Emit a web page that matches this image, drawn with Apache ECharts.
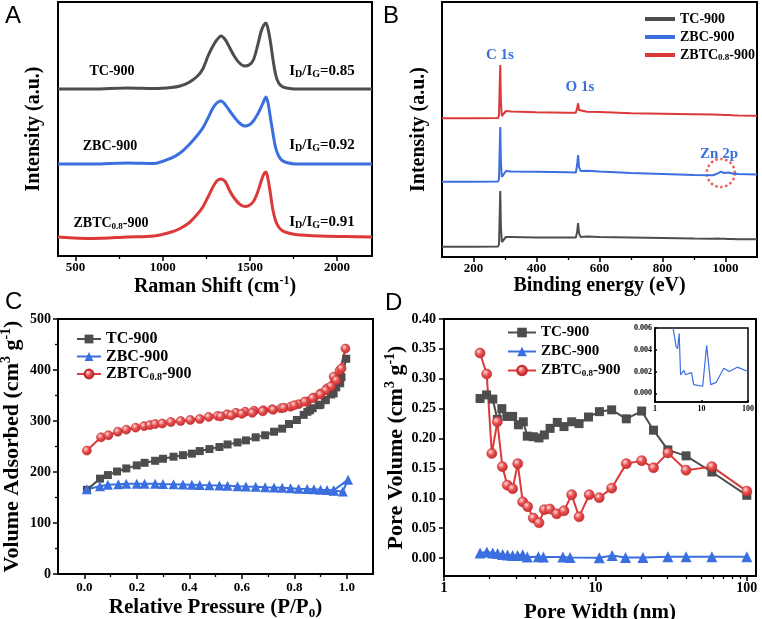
<!DOCTYPE html>
<html><head><meta charset="utf-8">
<script src="https://cdn.jsdelivr.net/npm/echarts@6/dist/echarts.min.js"></script>
<style>html,body{margin:0;padding:0;background:#fff}#c{width:762px;height:619px}</style>
</head><body><div id="c"></div><script>
// ---------- Panel A: Raman ----------
const ramanShift = [400,600,800,950,1050,1100,1150,1200,1230,1260,1285,1310,1335,1360,1385,1410,1440,1470,1495,1520,1545,1565,1580,1592,1604,1618,1632,1648,1665,1685,1710,1760,1900,2050,2200];
const ramanTC   = [167,167,168,167.5,168.5,170,173.5,180,187,200,209,216,220,216,208,200,193,190,191,196,211,225,231,233,227,214,197,181,173,169.5,168,167,167,167,167];
const ramanZBC  = [92,92,93,92.5,98,103,111,121,128,138,147,153,155,151,145,139,133,130,131,135,142,149,155,159,153,138,123,108,100,95.5,93.5,92,92,92,92];
const ramanZBTC = [19,17.5,19,20,24,27.5,33,42,49,59,68,75,77,74,65,58,52,49.5,50.5,54.5,64,75,82,84,77,62,46,35,29,25.5,23.5,21.5,20,19.5,19];
const ramanTicks = [500,1000,1500,2000];
const ramanMinor = [750,1250,1750];

// ---------- Panel B: XPS ----------
const bindingEnergy = [100,200,278,281,283,285,287,290,295,303,320,400,500,525,529,532,535,540,560,600,700,800,900,960,975,985,995,1010,1022,1040,1100];
const xpsTC   = [10.3,10.3,10.5,13,40,66,30,15,17,20,20,19.5,19.5,19.5,25,34,24,20,20.5,20,19.5,19,18.5,18.3,18.5,18.3,18.2,18,18,17.8,17.7];
const xpsZBC  = [75.3,75.3,75.5,78,105,130,95,80,81,86,85.5,85.3,84.7,84.5,92,102,90,86,86.3,85.5,84,83,82,81.8,83.5,85.3,84,84.5,83.5,83,82.5];
const xpsZBTC = [138.7,138.7,139,142,170,192,155,141,142,146,145.5,144.7,144.3,144.2,149,153.7,147,145,145.3,145,143.7,143.2,142.7,142.4,142.3,142.2,142.1,142,141.8,141.6,141.3];
const zn2pMark = [985, 84];
const xpsTicks = [200,400,600,800,1000];
const xpsMinor = [300,500,700,900];

// ---------- Panel C: N2 isotherms ----------
const isoTC_P  = [0.01,0.06,0.09,0.125,0.16,0.20,0.23,0.27,0.30,0.34,0.376,0.41,0.44,0.477,0.515,0.546,0.584,0.616,0.653,0.689,0.723,0.754,0.78,0.81,0.836,0.86,0.893,0.918,0.95,0.975,0.998,0.98,0.96,0.94,0.92,0.90,0.87,0.85];
const isoTC_V  = [165,187,194,201,207,213,218,222,226,230,233,236,241,245,249,254,258,262,268,272,279,285,294,302,312,321,331,341,354,374,422,386,366,352,341,332,325,318];
const isoZBC_P = [0.01,0.06,0.09,0.13,0.16,0.20,0.23,0.27,0.30,0.34,0.376,0.41,0.44,0.477,0.515,0.546,0.584,0.616,0.653,0.689,0.723,0.754,0.786,0.817,0.849,0.875,0.90,0.925,0.95,1.005,0.985,0.95];
const isoZBC_V = [166,172,175,176,177,177,177,177,176.5,176,175.5,175,174.5,174,173.5,173,172,171.5,171,170,169.5,169,168,167,166.5,166,165,164.5,164,185,162,163];
const isoZBTC_P = [0.01,0.064,0.092,0.128,0.16,0.196,0.228,0.25,0.27,0.297,0.33,0.367,0.404,0.44,0.474,0.508,0.544,0.578,0.613,0.647,0.682,0.716,0.75,0.786,0.817,0.849,0.875,0.90,0.925,0.95,0.973,0.995,0.98,0.96,0.94,0.92,0.90,0.87,0.84,0.80,0.76,0.72,0.68,0.64,0.60,0.56,0.52];
const isoZBTC_V = [242,268,272,279,283,287,290,292,294,295,298,300,302,304,308,310,313,316,318,320,321,323,325,328,333,338,346,354,364,387,399,442,403,380,368,360,352,345,338,331,326,322,319,316,314,311,309];
const pTicks = [0,0.2,0.4,0.6,0.8,1.0];
const pMinor = [0.1,0.3,0.5,0.7,0.9];
const vTicks = [0,100,200,300,400,500];
const vMinor = [50,150,250,350,450];

// ---------- Panel D: pore size distribution ----------
const psdTC_W = [1.73,1.91,2.1,2.25,2.41,2.6,2.84,3.1,3.34,3.55,3.89,4.24,4.6,5.02,5.6,6.2,6.97,7.8,9.0,10.63,12.8,16.0,20.2,24.2,30.1,39.7,58.8,100];
const psdTC_V = [0.267,0.273,0.266,0.232,0.250,0.237,0.237,0.223,0.228,0.204,0.203,0.201,0.206,0.217,0.227,0.220,0.228,0.225,0.236,0.245,0.248,0.233,0.246,0.214,0.181,0.171,0.144,0.105];
const psdZBTC_W = [1.73,1.915,2.07,2.25,2.43,2.62,2.84,3.07,3.31,3.57,3.89,4.24,4.6,5.0,5.55,6.2,6.97,7.8,9.1,10.6,12.8,16.0,20.2,24.2,30.1,39.7,58.8,100];
const psdZBTC_V = [0.343,0.308,0.175,0.228,0.153,0.122,0.116,0.158,0.094,0.086,0.067,0.059,0.081,0.082,0.074,0.079,0.106,0.069,0.106,0.101,0.117,0.158,0.163,0.151,0.176,0.147,0.153,0.112];
const psdZBC_W = [1.73,1.92,2.10,2.26,2.44,2.63,2.84,3.06,3.31,3.55,4.20,4.53,6.10,6.80,10.6,12.9,15.8,20.6,30.1,39.7,58.8,100];
const psdZBC_V = [0.0085,0.0100,0.0085,0.0075,0.0060,0.0052,0.0043,0.0041,0.0055,0.0017,0.0021,0.0017,0.0019,0.0008,0.00065,0.0044,0.0008,0.0010,0.0023,0.0020,0.0024,0.0020];
const pvTicks = [0,0.05,0.10,0.15,0.20,0.25,0.30,0.35,0.40];
const wTicks = [1,10,100];
const wMinor = [2,3,4,5,6,7,8,9,20,30,40,50,60,70,80,90];
const insetYTicks = [0,0.002,0.004,0.006];

// ---------- styling ----------
const F = 'Liberation Serif';
const GRAY = '#4d4d4d', BLUE = '#3b6fe0', RED = '#dc3a3a';
const redBall = {type:'radial',x:0.38,y:0.35,r:0.7,colorStops:[{offset:0,color:'#ffd9d9'},{offset:0.45,color:'#e65050'},{offset:1,color:'#c42a2a'}]};
const zip = (a,b) => a.map((v,i)=>[v,b[i]]);
const plain = v => String(v);

function nameStyle(fs){
  return {fontFamily:F,fontWeight:'bold',fontSize:fs,color:'#000',
    rich:{t:{fontFamily:F,fontWeight:'bold',fontSize:fs,color:'#000',lineHeight:fs+4},
          sup:{fontFamily:F,fontWeight:'bold',fontSize:Math.round(fs*0.62),color:'#000',verticalAlign:'top',lineHeight:8},
          sub:{fontFamily:F,fontWeight:'bold',fontSize:Math.round(fs*0.62),color:'#000',verticalAlign:'bottom',lineHeight:8}}};
}
function mainAxis(o){
  return {
    gridIndex:o.grid, type:o.type||'value', position:o.pos, min:o.min, max:o.max, logBase:10,
    axisLine:{show:true,onZero:false,lineStyle:{color:'#000',width:2}},
    axisTick:{show:!!o.ticks,customValues:o.ticks,length:o.tl||5,inside:!!o.inside,lineStyle:{color:'#000',width:1.5}},
    axisLabel:{show:!!o.ticks,customValues:o.ticks,formatter:o.fmt||plain,fontFamily:F,fontWeight:'bold',fontSize:o.fs||13,color:'#000',margin:o.margin||5},
    splitLine:{show:false},
    name:o.name, nameLocation:'middle', nameGap:o.gap, nameTextStyle:nameStyle(o.nfs||20)
  };
}
function minorAxis(o){
  return {
    gridIndex:o.grid, type:o.type||'value', position:o.pos, min:o.min, max:o.max, logBase:10,
    axisLine:{show:false,onZero:false},
    axisTick:{show:true,customValues:o.ticks,length:3,lineStyle:{color:'#000',width:1.3}},
    axisLabel:{show:false}, splitLine:{show:false}
  };
}
const legendText = (fs) => ({fontFamily:F,fontWeight:'bold',fontSize:fs,color:'#000',lineHeight:fs,
  rich:{n:{fontFamily:F,fontWeight:'bold',fontSize:fs,color:'#000',lineHeight:fs},
        s:{fontFamily:F,fontWeight:'bold',fontSize:Math.round(fs*0.62),color:'#000',verticalAlign:'bottom',lineHeight:6}}});
function legendFmt(name){
  const n = name.split('|')[1];
  if (n.indexOf('ZBTC')===0) return '{n|ZBTC}{s|0.8}{n|-900}';
  return '{n|'+n+'}';
}
const sampleNames = ['TC-900','ZBC-900','ZBTC0.8-900'];
const G = {show:true,borderColor:'#000',borderWidth:2,containLabel:false,outerBoundsMode:'none'};

const option = {
  animation:false,
  grid:[
    Object.assign({left:58,top:2,width:314,height:254},G),
    Object.assign({left:442,top:2,width:315,height:255},G),
    Object.assign({left:58,top:319,width:315,height:255},G),
    Object.assign({left:444,top:319,width:312,height:257},G),
    Object.assign({left:655,top:328,width:93,height:74},G,{borderWidth:1.5,backgroundColor:'#fff'})
  ],
  xAxis:[
    mainAxis({grid:0,pos:'bottom',min:400,max:2200,ticks:ramanTicks,name:'{t|Raman Shift (cm}{sup|-1}{t|)}',gap:17}),
    minorAxis({grid:0,pos:'bottom',min:400,max:2200,ticks:ramanMinor}),
    mainAxis({grid:1,pos:'bottom',min:100,max:1100,ticks:xpsTicks,name:'{t|Binding energy (eV)}',gap:17}),
    minorAxis({grid:1,pos:'bottom',min:100,max:1100,ticks:xpsMinor}),
    mainAxis({grid:2,pos:'bottom',min:-0.1,max:1.1,ticks:pTicks,fmt:v=>v.toFixed(1),fs:13,margin:7,name:'{t|Relative Pressure (P/P}{sub|0}{t|)}',gap:21,nfs:21}),
    minorAxis({grid:2,pos:'bottom',min:-0.1,max:1.1,ticks:pMinor}),
    mainAxis({grid:3,pos:'bottom',type:'log',min:1,max:115,ticks:wTicks,fs:14,margin:5,name:'{t|Pore Width (nm)}',gap:24,nfs:21}),
    minorAxis({grid:3,pos:'bottom',type:'log',min:1,max:115,ticks:wMinor}),
    Object.assign(mainAxis({grid:4,pos:'bottom',type:'log',min:1,max:100,ticks:wTicks,fs:8,margin:3,tl:2,inside:true}),{axisLine:{show:true,onZero:false,lineStyle:{color:'#000',width:1.5}}})
  ],
  yAxis:[
    mainAxis({grid:0,pos:'left',min:0,max:254,name:'{t|Intensity (a.u.)}',gap:12,nfs:20}),
    mainAxis({grid:1,pos:'left',min:0,max:255,name:'{t|Intensity (a.u.)}',gap:11,nfs:20}),
    mainAxis({grid:2,pos:'left',min:0,max:500,ticks:vTicks,fs:14,margin:7,name:'{t|Volume Adsorbed (cm}{sup|3}{t| g}{sup|-1}{t|)}',gap:33,nfs:22}),
    minorAxis({grid:2,pos:'left',min:0,max:500,ticks:vMinor}),
    mainAxis({grid:3,pos:'left',min:-0.03,max:0.40,ticks:pvTicks,fmt:v=>v.toFixed(2),fs:14,margin:8,name:'{t|Pore Volume (cm}{sup|3}{t| g}{sup|-1}{t|)}',gap:30,nfs:22}),
    Object.assign(mainAxis({grid:4,pos:'left',min:-0.0008,max:0.006,ticks:insetYTicks,fmt:v=>v.toFixed(3),fs:8,margin:3,tl:2,inside:true}),{axisLine:{show:true,onZero:false,lineStyle:{color:'#000',width:1.5}}})
  ],
  legend:[
    {orient:'vertical',left:640,top:7,itemWidth:30,itemHeight:4,itemGap:4,selectedMode:false,
     data:sampleNames.map(n=>({name:'B|'+n,icon:'rect'})),formatter:legendFmt,textStyle:legendText(14)},
    {orient:'vertical',left:71,top:326,itemWidth:24,itemHeight:11,itemGap:1.5,selectedMode:false,
     data:sampleNames.map(n=>'C|'+n),formatter:legendFmt,textStyle:legendText(16)},
    {orient:'vertical',left:502,top:320,itemWidth:28,itemHeight:12,itemGap:4,selectedMode:false,
     data:sampleNames.map(n=>'D|'+n),formatter:legendFmt,textStyle:legendText(15)}
  ],
  series:[
    {name:'A|TC-900',type:'line',xAxisIndex:0,yAxisIndex:0,data:zip(ramanShift,ramanTC),symbol:'none',smooth:0.3,lineStyle:{color:GRAY,width:3},itemStyle:{color:GRAY}},
    {name:'A|ZBC-900',type:'line',xAxisIndex:0,yAxisIndex:0,data:zip(ramanShift,ramanZBC),symbol:'none',smooth:0.3,lineStyle:{color:BLUE,width:3},itemStyle:{color:BLUE}},
    {name:'A|ZBTC0.8-900',type:'line',xAxisIndex:0,yAxisIndex:0,data:zip(ramanShift,ramanZBTC),symbol:'none',smooth:0.3,lineStyle:{color:RED,width:3},itemStyle:{color:RED}},

    {name:'B|TC-900',type:'line',xAxisIndex:2,yAxisIndex:1,data:zip(bindingEnergy,xpsTC),symbol:'none',lineStyle:{color:GRAY,width:2},itemStyle:{color:GRAY}},
    {name:'B|ZBC-900',type:'line',xAxisIndex:2,yAxisIndex:1,data:zip(bindingEnergy,xpsZBC),symbol:'none',lineStyle:{color:BLUE,width:2},itemStyle:{color:BLUE}},
    {name:'B|ZBTC0.8-900',type:'line',xAxisIndex:2,yAxisIndex:1,data:zip(bindingEnergy,xpsZBTC),symbol:'none',lineStyle:{color:RED,width:2},itemStyle:{color:RED}},
    {name:'zn',type:'scatter',xAxisIndex:2,yAxisIndex:1,data:[zn2pMark],symbol:'circle',symbolSize:28,silent:true,
     itemStyle:{color:'rgba(0,0,0,0)',borderColor:'#e53935',borderWidth:2.5,borderType:[2.5,2.5]}},

    {name:'C|TC-900',type:'line',xAxisIndex:4,yAxisIndex:2,data:zip(isoTC_P,isoTC_V),symbol:'rect',symbolSize:8,lineStyle:{color:GRAY,width:2},itemStyle:{color:GRAY}},
    {name:'C|ZBC-900',type:'line',xAxisIndex:4,yAxisIndex:2,data:zip(isoZBC_P,isoZBC_V),symbol:'triangle',symbolSize:10,lineStyle:{color:BLUE,width:2},itemStyle:{color:BLUE}},
    {name:'C|ZBTC0.8-900',type:'line',xAxisIndex:4,yAxisIndex:2,data:zip(isoZBTC_P,isoZBTC_V),symbol:'circle',symbolSize:9,lineStyle:{color:RED,width:2},itemStyle:{color:redBall,borderColor:'#c0282d',borderWidth:0.6}},

    {name:'D|TC-900',type:'line',xAxisIndex:6,yAxisIndex:4,data:zip(psdTC_W,psdTC_V),symbol:'rect',symbolSize:9,lineStyle:{color:GRAY,width:2},itemStyle:{color:GRAY}},
    {name:'D|ZBC-900',type:'line',xAxisIndex:6,yAxisIndex:4,data:zip(psdZBC_W,psdZBC_V),symbol:'triangle',symbolSize:11,lineStyle:{color:BLUE,width:2},itemStyle:{color:BLUE}},
    {name:'D|ZBTC0.8-900',type:'line',xAxisIndex:6,yAxisIndex:4,data:zip(psdZBTC_W,psdZBTC_V),symbol:'circle',symbolSize:10,lineStyle:{color:RED,width:2},itemStyle:{color:redBall,borderColor:'#c0282d',borderWidth:0.6}},

    {name:'inset',type:'line',xAxisIndex:8,yAxisIndex:5,data:zip(psdZBC_W,psdZBC_V),symbol:'none',clip:true,lineStyle:{color:BLUE,width:1.2},itemStyle:{color:BLUE}}
  ],
  graphic:[
    {type:'text',x:5,y:4,style:{text:'A',font:'24px "Liberation Sans"',fill:'#000'}},
    {type:'text',x:383,y:4,style:{text:'B',font:'24px "Liberation Sans"',fill:'#000'}},
    {type:'text',x:5,y:290,style:{text:'C',font:'24px "Liberation Sans"',fill:'#000'}},
    {type:'text',x:385,y:291,style:{text:'D',font:'24px "Liberation Sans"',fill:'#000'}}
  ]
};

function lab(x,y,rich,color,fs){
  return {type:'text',x:x,y:y,style:{text:rich,align:'center',verticalAlign:'middle',textAlign:'center',textVerticalAlign:'middle',
    rich:{n:{fontFamily:F,fontWeight:'bold',fontSize:fs,fill:color,color:color,lineHeight:fs+2},
          s:{fontFamily:F,fontWeight:'bold',fontSize:Math.round(fs*0.65),fill:color,color:color,verticalAlign:'bottom',lineHeight:7}}}};
}
option.graphic.push(
  lab(112,71,'{n|TC-900}','#000',14),
  lab(110,146,'{n|ZBC-900}','#000',14),
  lab(111,223,'{n|ZBTC}{s|0.8}{n|-900}','#000',14),
  lab(322,71,'{n|I}{s|D}{n|/I}{s|G}{n|=0.85}','#000',15),
  lab(322,145,'{n|I}{s|D}{n|/I}{s|G}{n|=0.92}','#000',15),
  lab(322,222,'{n|I}{s|D}{n|/I}{s|G}{n|=0.91}','#000',15),
  lab(500,55,'{n|C 1s}',BLUE,15),
  lab(580,87,'{n|O 1s}',BLUE,15),
  lab(719,154,'{n|Zn 2p}',BLUE,15)
);

const chart = echarts.init(document.getElementById('c'),null,{renderer:'canvas'});
chart.setOption(option);
</script></body></html>
